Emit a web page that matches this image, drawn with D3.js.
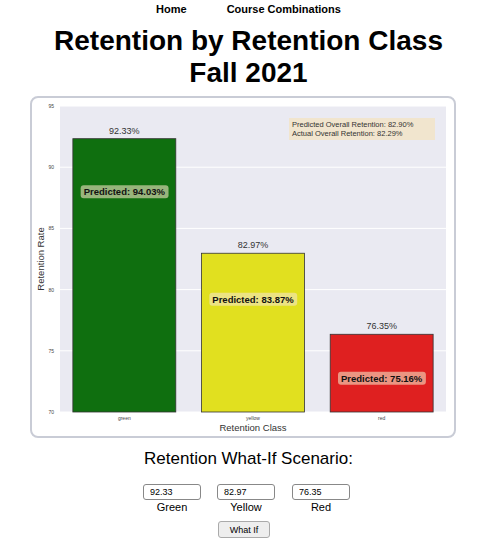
<!DOCTYPE html>
<html><head><meta charset="utf-8">
<script src="https://cdn.jsdelivr.net/npm/d3@7"></script>
<style>
body{margin:0;font-family:"Liberation Sans",Arial,sans-serif;background:#fff;width:497px;}
.nav{text-align:center;font-size:11px;font-weight:bold;padding-top:3px;height:14px}
.nav a{color:#000;text-decoration:none;margin:0 20px}
h1{margin:8px 0 0;text-align:center;font-size:28px;line-height:32px}
.card{position:absolute;left:30px;top:96px;width:426px;height:342px;border:2px solid #c9ccd6;border-radius:8px;box-sizing:border-box}
svg{position:absolute;left:0;top:0}
.whatif{position:absolute;top:449px;width:497px;text-align:center;font-size:17px}
.row{position:absolute;top:484px;left:0;width:497px}
.f{position:absolute;width:60px;text-align:center;font-size:11px}
.f input{width:58px;height:16px;box-sizing:border-box;border:1px solid #888;border-radius:3px;font-size:9px;padding:0 6px;font-family:inherit}
.f div{margin-top:1px}
button{position:absolute;top:521px;left:218px;width:52px;height:17px;font-size:9px;border:1px solid #aaa;border-radius:3px;background:#eee;font-family:inherit}
</style></head><body>
<div class="nav"><a>Home</a><a>Course Combinations</a></div>
<h1>Retention by Retention Class<br>Fall 2021</h1>
<div class="card"></div>
<svg id="c" width="497" height="543"></svg>
<div class="whatif">Retention What-If Scenario:</div>
<div class="row" id="row"></div>
<button>What If</button>
<script>
const classes = ["green", "yellow", "red"];
const actual = [92.33, 82.97, 76.35];
const predicted = [94.03, 83.87, 75.16];
const colors = ["#0f6f0f", "#e1e01f", "#df2020"];
const labels = ["Green", "Yellow", "Red"];
const yTicks = [70, 75, 80, 85, 90, 95];
const overall = {pred: 82.90, act: 82.29};

const svg = d3.select("#c");
const L = 60, R = 446, T = 106, B = 412;
const x = d3.scaleBand().domain(classes).range([L, R]).paddingInner(0.2).paddingOuter(0.1);
const y = d3.scaleLinear().domain([70, 95]).range([B, T]);

svg.append("rect").attr("x", L).attr("y", T).attr("width", R - L).attr("height", B - T).attr("fill", "#eaeaf2");
svg.selectAll(".g").data(yTicks).join("line")
  .attr("x1", L).attr("x2", R).attr("y1", d => y(d)).attr("y2", d => y(d)).attr("stroke", "#fff");
svg.selectAll(".yt").data(yTicks).join("text")
  .attr("x", L - 6).attr("y", d => y(d) + 2).attr("text-anchor", "end")
  .attr("font-size", 5).attr("fill", "#444").text(d => d);

svg.selectAll(".bar").data(classes).join("rect")
  .attr("x", d => x(d)).attr("width", x.bandwidth())
  .attr("y", (d, i) => y(actual[i])).attr("height", (d, i) => B - y(actual[i]))
  .attr("fill", (d, i) => colors[i]).attr("stroke", "#333").attr("stroke-width", 0.8);

svg.selectAll(".val").data(classes).join("text")
  .attr("x", d => x(d) + x.bandwidth() / 2).attr("y", (d, i) => y(actual[i]) - 5)
  .attr("text-anchor", "middle").attr("font-size", 9).attr("fill", "#333")
  .text((d, i) => actual[i].toFixed(2) + "%");

const offs = [53, 46, 44];
classes.forEach((c, i) => {
  const cx = x(c) + x.bandwidth() / 2, cy = y(actual[i]) + offs[i];
  const g = svg.append("g");
  const t = g.append("text").attr("x", cx).attr("y", cy + 3.5).attr("text-anchor", "middle")
    .attr("font-size", 9.5).attr("font-weight", "bold").attr("fill", "#111")
    .text("Predicted: " + predicted[i].toFixed(2) + "%");
  const bb = t.node().getBBox();
  g.insert("rect", "text").attr("x", bb.x - 3).attr("y", bb.y - 1).attr("width", bb.width + 6)
    .attr("height", bb.height + 2).attr("rx", 3).attr("fill", "#f3e4c4").attr("opacity", 0.6);
});

svg.selectAll(".xt").data(classes).join("text")
  .attr("x", d => x(d) + x.bandwidth() / 2).attr("y", B + 8).attr("text-anchor", "middle")
  .attr("font-size", 5).attr("fill", "#444").text(d => d);
svg.append("text").attr("x", (L + R) / 2).attr("y", B + 19).attr("text-anchor", "middle")
  .attr("font-size", 9.5).attr("fill", "#333").text("Retention Class");
svg.append("text").attr("transform", `translate(44,${(T + B) / 2}) rotate(-90)`)
  .attr("text-anchor", "middle").attr("font-size", 9.5).attr("fill", "#333").text("Retention Rate");

const lg = svg.append("g");
lg.append("rect").attr("x", 289).attr("y", 118).attr("width", 146).attr("height", 22).attr("fill", "#f3e4c4").attr("opacity", 0.8);
lg.append("text").attr("x", 292).attr("y", 127).attr("font-size", 7.5).attr("fill", "#333")
  .text(`Predicted Overall Retention:  ${overall.pred.toFixed(2)}%`);
lg.append("text").attr("x", 292).attr("y", 136).attr("font-size", 7.5).attr("fill", "#333")
  .text(`Actual Overall Retention:  ${overall.act.toFixed(2)}%`);

const lefts = [142, 216, 291];
const row = d3.select("#row");
labels.forEach((l, i) => {
  const f = row.append("div").attr("class", "f").style("left", lefts[i] + "px");
  f.append("input").attr("value", actual[i]);
  f.append("div").text(l);
});
</script>
</body></html>
